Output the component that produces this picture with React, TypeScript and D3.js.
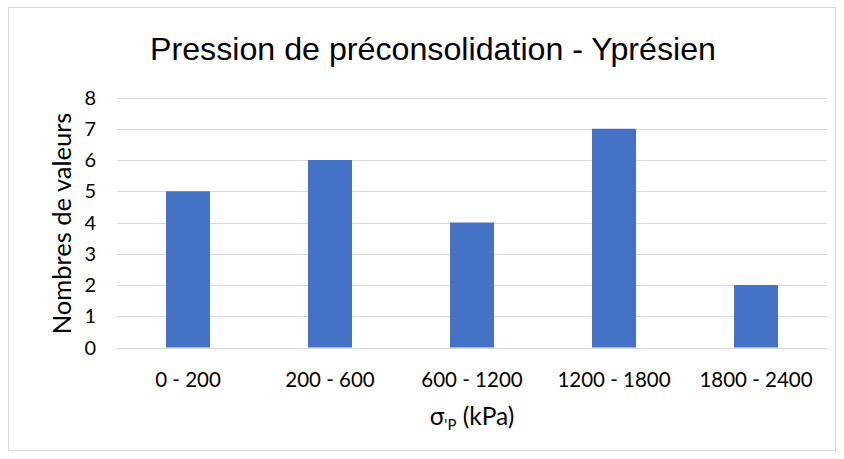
import React from "react";
import * as d3 from "d3";

const categories = ["0 - 200", "200 - 600", "600 - 1200", "1200 - 1800", "1800 - 2400"];
const values = [5, 6, 4, 7, 2];
const yTicks = [0, 1, 2, 3, 4, 5, 6, 7, 8];
const title = "Pression de préconsolidation - Yprésien";
const yTitle = "Nombres de valeurs";

export default function App() {
  const W = 844, H = 459;
  const left = 117, right = 827, top = 97.5, bottom = 347.5;
  const x = d3.scaleBand<string>().domain(categories).range([left, right]).padding(0);
  const y = d3.scaleLinear().domain([0, 8]).range([bottom, top]);
  const bw = x.bandwidth() * 0.31;
  const font = "Lato, 'Open Sans', sans-serif";
  return (
    <svg width={W} height={H} style={{ position: "absolute", left: 0, top: 0 }}>
      <rect x={0} y={0} width={W} height={H} fill="#fff" />
      <rect x={8.5} y={7.5} width={827} height={443} fill="#fff" stroke="#d9d9d9" strokeWidth={1} />
      <text x={433} y={59.5} textAnchor="middle" fontFamily="'Liberation Sans', Arial, sans-serif" fontSize={32.2} fill="#000">{title}</text>
      {yTicks.map((t) => (
        <g key={t}>
          <line x1={left} x2={right} y1={Math.round(y(t)) + 0.5} y2={Math.round(y(t)) + 0.5} stroke="#d9d9d9" strokeWidth={1} />
          <text x={96} y={y(t)} dy="0.36em" textAnchor="end" fontFamily={font} fontSize={20} fill="#000">{t}</text>
        </g>
      ))}
      {categories.map((c, i) => (
        <g key={c}>
          <rect x={x(c)! + x.bandwidth() / 2 - bw / 2} y={y(values[i])} width={bw} height={y(0) - y(values[i])} fill="#4472C4" />
          <text x={x(c)! + x.bandwidth() / 2} y={387} textAnchor="middle" fontFamily={font} fontSize={20.5} fill="#000">{c}</text>
        </g>
      ))}
      <text x={472} y={425} textAnchor="middle" fontFamily={font} fontSize={24.5} fill="#000">
        σ<tspan fontSize={15} dy={5}>'P</tspan><tspan dy={-5}> (kPa)</tspan>
      </text>
      <text transform={`translate(71, 223.5) rotate(-90)`} textAnchor="middle" fontFamily={font} fontSize={25.5} fill="#000">{yTitle}</text>
    </svg>
  );
}
